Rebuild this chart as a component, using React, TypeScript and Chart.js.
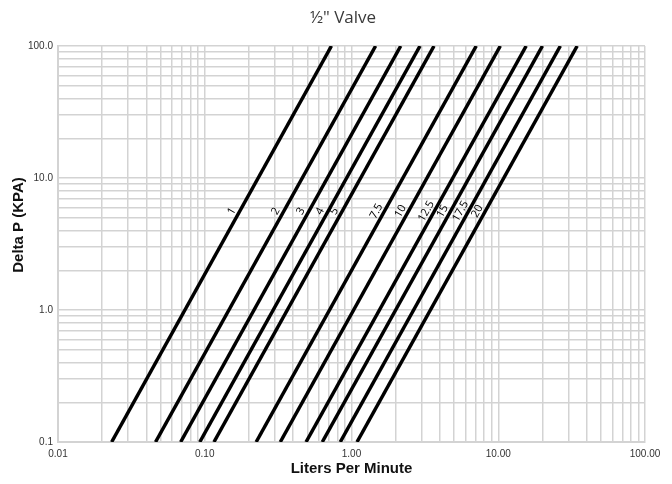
import React, { useEffect, useRef } from "react";
import { Chart, registerables } from "chart.js";

Chart.register(...registerables);

const TITLE = '½" Valve';
const X_TITLE = "Liters Per Minute";
const Y_TITLE = "Delta P (KPA)";

// Curve names (valve coefficient settings)
const curveLabels = ["1", "2", "3", "4", "5", "7.5", "10", "12.5", "15", "17.5", "20"];
// Pressure drop (kPa) at the two ends of every curve
const pressureEnds = [0.1, 100];
// Flow (L/min) read where each curve meets 0.1 kPa and 100 kPa
const flowAtLowP = [0.0232, 0.0462, 0.0685, 0.0925, 0.1155, 0.224, 0.327, 0.49, 0.632, 0.838, 1.09];
const flowAtHighP = [0.73, 1.46, 2.165, 2.93, 3.65, 7.08, 10.33, 15.5, 20.0, 26.5, 34.5];

// Axis decades and grid multiples
const xDecades = [0.01, 0.1, 1, 10, 100];
const yDecades = [0.1, 1, 10, 100];
const gridMultiples = [1, 2, 3, 4, 5, 6, 7, 8, 9];
const labelPressure = 5.6;

function buildLogTicks(decades: number[]) {
  const out: { value: number }[] = [];
  for (let i = 0; i < decades.length - 1; i++) {
    for (const m of gridMultiples) {
      out.push({ value: Number((m * decades[i]).toPrecision(6)) });
    }
  }
  out.push({ value: decades[decades.length - 1] });
  return out;
}

const GRID = "#d3d3d3";
const TICK_FONT = { family: "'Liberation Sans', Arial, sans-serif", size: 10 };
const AXIS_TITLE_FONT = { family: "'Liberation Sans', Arial, sans-serif", size: 15, weight: "bold" as const };

const curveLabelPlugin = {
  id: "curveLabels",
  afterDatasetsDraw(chart: any) {
    const { ctx, scales } = chart;
    const xs = scales.x;
    const ys = scales.y;
    ctx.save();
    ctx.font = '11px "Open Sans", "Noto Sans", sans-serif';
    ctx.fillStyle = "#000";
    ctx.textAlign = "center";
    ctx.textBaseline = "middle";
    chart.data.datasets.forEach((ds: any) => {
      const [p0, p1] = ds.data;
      const t =
        (Math.log10(labelPressure) - Math.log10(p0.y)) /
        (Math.log10(p1.y) - Math.log10(p0.y));
      const q = Math.pow(10, Math.log10(p0.x) + t * (Math.log10(p1.x) - Math.log10(p0.x)));
      const px = xs.getPixelForValue(q);
      const py = ys.getPixelForValue(labelPressure);
      const angle = Math.atan2(
        ys.getPixelForValue(p1.y) - ys.getPixelForValue(p0.y),
        xs.getPixelForValue(p1.x) - xs.getPixelForValue(p0.x)
      );
      ctx.save();
      ctx.translate(px - 8, py);
      ctx.rotate(angle);
      ctx.fillText(ds.label, 0, 0);
      ctx.restore();
    });
    // Y axis title
    ctx.save();
    ctx.font = "bold 15px 'Liberation Sans', Arial, sans-serif";
    ctx.fillStyle = "#111";
    ctx.translate(19, (chart.chartArea.top + chart.chartArea.bottom) / 2 - 19);
    ctx.rotate(-Math.PI / 2);
    ctx.fillText(Y_TITLE, 0, 0);
    ctx.restore();
    ctx.restore();
  },
};

const titleShiftPlugin = {
  id: "titleShift",
  afterLayout(chart: any) {
    const tb = chart.titleBlock;
    if (tb) {
      tb.left = 14;
      tb.right = chart.width;
    }
  },
};

export default function App() {
  const ref = useRef<HTMLCanvasElement | null>(null);

  useEffect(() => {
    if (!ref.current) return;
    const datasets = curveLabels.map((label, i) => ({
      label,
      data: [
        { x: flowAtLowP[i], y: pressureEnds[0] },
        { x: flowAtHighP[i], y: pressureEnds[1] },
      ],
      borderColor: "#000",
      backgroundColor: "#000",
      borderWidth: 3.5,
      pointRadius: 0,
      pointHoverRadius: 0,
      fill: false,
      tension: 0,
    }));

    const chart = new Chart(ref.current, {
      type: "line",
      data: { datasets },
      options: {
        animation: false,
        responsive: false,
        layout: { padding: { top: 0, right: 27, bottom: 0, left: 0 } },
        plugins: {
          legend: { display: false },
          tooltip: { enabled: false },
          title: {
            display: true,
            text: TITLE,
            color: "#3a3a3a",
            font: { family: "'Open Sans', 'Noto Sans', sans-serif", size: 17, weight: "normal" },
            padding: { top: 8, bottom: 17.6 },
          },
        },
        scales: {
          x: {
            type: "logarithmic",
            min: xDecades[0],
            max: xDecades[xDecades.length - 1],
            afterBuildTicks: (axis: any) => {
              axis.ticks = buildLogTicks(xDecades);
            },
            afterFit: (axis: any) => {
              axis.height = 42;
            },
            ticks: {
              autoSkip: false,
              maxRotation: 0,
              padding: 6,
              color: "#333",
              font: TICK_FONT,
              callback: (v: any) => (xDecades.includes(Number(v)) ? Number(v).toFixed(2) : ""),
            },
            grid: { color: GRID, lineWidth: 1.5, drawTicks: false },
            border: { display: true, color: GRID, width: 2 },
            title: {
              display: true,
              text: X_TITLE,
              color: "#111",
              font: AXIS_TITLE_FONT,
              padding: { top: 0, bottom: 6 },
            },
          },
          y: {
            type: "logarithmic",
            min: yDecades[0],
            max: yDecades[yDecades.length - 1],
            afterBuildTicks: (axis: any) => {
              axis.ticks = buildLogTicks(yDecades);
            },
            afterFit: (axis: any) => {
              axis.width = 58;
            },
            ticks: {
              autoSkip: false,
              padding: 5,
              color: "#333",
              font: TICK_FONT,
              callback: (v: any) => (yDecades.includes(Number(v)) ? Number(v).toFixed(1) : ""),
            },
            grid: { color: GRID, lineWidth: 1.5, drawTicks: false },
            border: { display: true, color: GRID, width: 2 },
          },
        },
      } as any,
      plugins: [curveLabelPlugin, titleShiftPlugin],
    });
    return () => chart.destroy();
  }, []);

  return (
    <div style={{ position: "fixed", left: 0, top: 0, width: 672, height: 484, background: "#fff" }}>
      <canvas ref={ref} width={672} height={484} />
    </div>
  );
}
